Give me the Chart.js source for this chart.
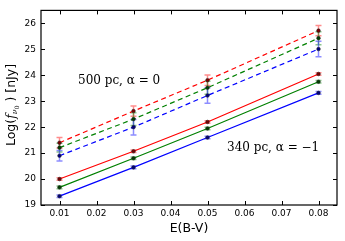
<!DOCTYPE html>
<html>
<head>
<meta charset="utf-8">
<script src="https://cdn.jsdelivr.net/npm/chart.js@4/dist/chart.umd.min.js"></script>
<style>
  html, body { margin: 0; padding: 0; background: #fff; }
  #wrap { width: 345px; height: 241px; }
</style>
</head>
<body>
<div id="wrap"><canvas id="fluxChart" width="345" height="241"></canvas></div>
<script>
// --- data ---
const ebv = [0.01, 0.03, 0.05, 0.08];
const xTicks = [0.01, 0.02, 0.03, 0.04, 0.05, 0.06, 0.07, 0.08];
const yTicks = [19, 20, 21, 22, 23, 24, 25, 26];

// 500 pc, alpha = 0 (dashed)
const far_red = [21.40, 22.62, 23.81, 25.72];
const far_green = [21.21, 22.31, 23.52, 25.43];
const far_blue = [20.90, 22.00, 23.22, 25.01];
const far_red_err = [0.2, 0.2, 0.2, 0.2];
const far_green_err = [0.17, 0.25, 0.25, 0.25];
const far_blue_err = [0.2, 0.3, 0.3, 0.3];

// 340 pc, alpha = -1 (solid)
const near_red = [20.00, 21.07, 22.20, 24.05];
const near_green = [19.68, 20.80, 21.95, 23.75];
const near_blue = [19.34, 20.45, 21.60, 23.32];
const near_err = [0.05, 0.05, 0.05, 0.05];

const colors = { red: '#ff0000', green: '#008000', blue: '#0000ff' };
const dark = { red: '#7a0000', green: '#004000', blue: '#000080' };
const light = { red: 'rgba(255,0,0,0.45)', green: 'rgba(0,128,0,0.45)', blue: 'rgba(0,0,255,0.45)' };

function series(values, errs, c, dashed) {
    return {
        data: ebv.map((x, i) => ({ x: x, y: values[i] })),
        errs: errs,
        errColor: light[c],
        borderColor: colors[c],
        borderWidth: 1.2,
        borderDash: dashed ? [5, 3.5] : [],
        pointRadius: 1.8,
        pointBackgroundColor: dark[c],
        pointBorderColor: '#222',
        pointBorderWidth: 0.6,
        tension: 0,
        fill: false
    };
}

// error bars, inward ticks, frame and texts
const decorations = {
    id: 'decorations',
    beforeDatasetsDraw(chart) {
        const ctx = chart.ctx;
        const ys = chart.scales.y;
        chart.data.datasets.forEach((ds, di) => {
            const meta = chart.getDatasetMeta(di);
            ctx.save();
            ctx.strokeStyle = ds.errColor;
            ctx.lineWidth = 1.5;
            meta.data.forEach((pt, i) => {
                const v = ds.data[i].y, e = ds.errs[i];
                const top = ys.getPixelForValue(v + e);
                const bot = ys.getPixelForValue(v - e);
                ctx.beginPath();
                ctx.moveTo(pt.x, top); ctx.lineTo(pt.x, bot);
                ctx.moveTo(pt.x - 3, top); ctx.lineTo(pt.x + 3, top);
                ctx.moveTo(pt.x - 3, bot); ctx.lineTo(pt.x + 3, bot);
                ctx.stroke();
            });
            ctx.restore();
        });
    },
    afterDraw(chart) {
        const ctx = chart.ctx;
        const a = chart.chartArea;
        const xs = chart.scales.x, ys = chart.scales.y;
        ctx.save();
        ctx.strokeStyle = '#000';
        ctx.lineWidth = 1;
        ctx.beginPath();
        xTicks.forEach(t => {
            const px = Math.round(xs.getPixelForValue(t)) + 0.5;
            ctx.moveTo(px, a.bottom); ctx.lineTo(px, a.bottom - 4);
            ctx.moveTo(px, a.top); ctx.lineTo(px, a.top + 4);
        });
        yTicks.forEach(t => {
            const py = Math.round(ys.getPixelForValue(t)) + 0.5;
            ctx.moveTo(a.left, py); ctx.lineTo(a.left + 4, py);
            ctx.moveTo(a.right, py); ctx.lineTo(a.right - 4, py);
        });
        ctx.stroke();
        ctx.lineWidth = 1.2;
        ctx.strokeRect(a.left, a.top, a.right - a.left, a.bottom - a.top);

        // annotations
        ctx.fillStyle = '#000';
        ctx.textBaseline = 'middle';
        ctx.font = '12px "DejaVu Serif"';
        ctx.fillText('500 pc, α = 0', 78, 81);
        ctx.fillText('340 pc, α = −1', 227, 148);

        // y axis title: Log(f_ν0) [nJy]
        ctx.translate(12, 105);
        ctx.rotate(-Math.PI / 2);
        ctx.textBaseline = 'middle';
        const big = '12.5px "DejaVu Sans"';
        const parts = [
            { t: 'Log(', f: big, dy: 0 },
            { t: 'f', f: 'italic 12.5px "DejaVu Serif"', dy: 0 },
            { t: 'ν', f: 'italic 8px "DejaVu Serif"', dy: 3 },
            { t: '0', f: '6px "DejaVu Serif"', dy: 5 },
            { t: ' ) [nJy]', f: big, dy: 0 }
        ];
        let w = 0;
        parts.forEach(p => { ctx.font = p.f; w += ctx.measureText(p.t).width; });
        let x = -w / 2;
        parts.forEach(p => {
            ctx.font = p.f;
            ctx.fillText(p.t, x, p.dy);
            x += ctx.measureText(p.t).width;
        });
        ctx.restore();
    }
};

new Chart(document.getElementById('fluxChart'), {
    type: 'line',
    data: {
        datasets: [
            series(far_red, far_red_err, 'red', true),
            series(far_green, far_green_err, 'green', true),
            series(far_blue, far_blue_err, 'blue', true),
            series(near_red, near_err, 'red', false),
            series(near_green, near_err, 'green', false),
            series(near_blue, near_err, 'blue', false)
        ]
    },
    options: {
        responsive: false,
        animation: false,
        layout: { padding: { top: 6, right: 8, left: 0, bottom: 0 } },
        plugins: { legend: { display: false }, tooltip: { enabled: false } },
        scales: {
            x: {
                type: 'linear',
                min: 0.005,
                max: 0.085,
                afterBuildTicks: s => { s.ticks = xTicks.map(v => ({ value: v })); },
                afterFit: s => { s.height = 36; },
                grid: { display: false, drawTicks: false },
                border: { display: false },
                ticks: {
                    color: '#000',
                    padding: 3,
                    maxRotation: 0,
                    font: { family: 'DejaVu Sans', size: 9 },
                    callback: v => v.toFixed(2)
                },
                title: {
                    display: true,
                    text: 'E(B-V)',
                    color: '#000',
                    font: { family: 'DejaVu Sans', size: 12.5 },
                    padding: { top: 3, bottom: 5 }
                }
            },
            y: {
                min: 19,
                max: 26.5,
                afterBuildTicks: s => { s.ticks = yTicks.map(v => ({ value: v })); },
                afterFit: s => { s.width = 41; },
                grid: { display: false, drawTicks: false },
                border: { display: false },
                ticks: {
                    color: '#000',
                    padding: 5,
                    font: { family: 'DejaVu Sans', size: 9 },
                    callback: v => String(v)
                }
            }
        }
    },
    plugins: [decorations]
});
</script>
</body>
</html>
